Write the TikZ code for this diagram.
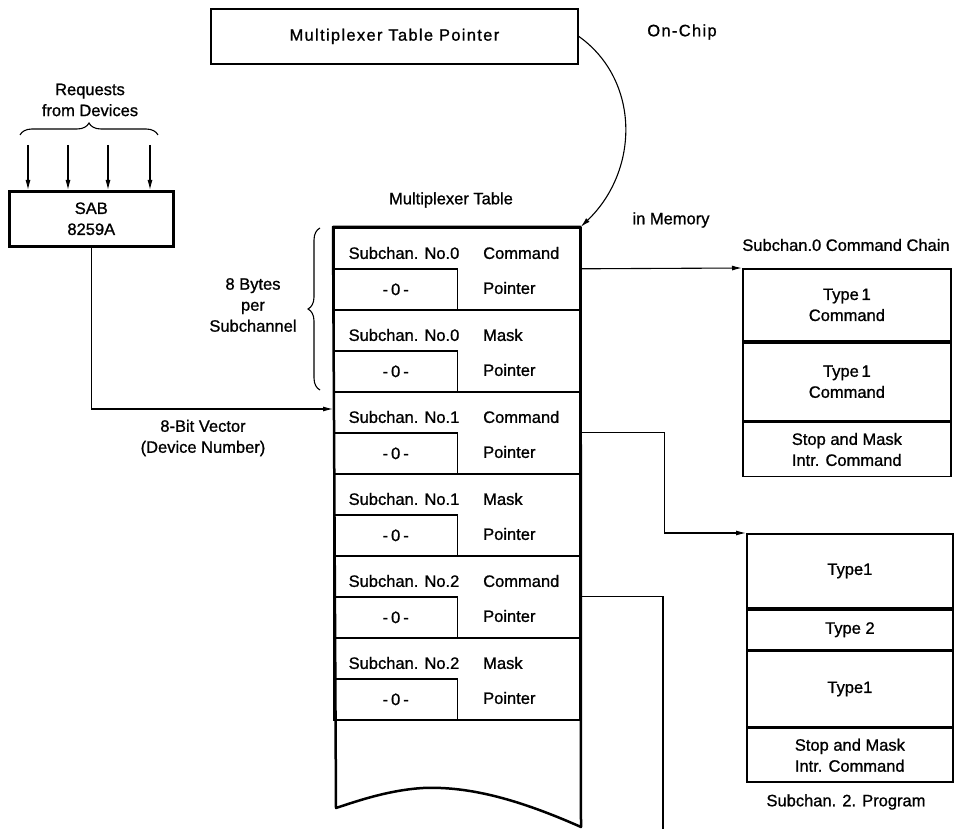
\documentclass[tikz,border=0pt]{standalone}
\usepackage{fontspec}
\setmainfont{Liberation Sans}[FakeBold=1]
\newfontfamily\widefont{Liberation Sans}[FakeBold=1, LetterSpace=8]
\usetikzlibrary{decorations.pathreplacing,arrows.meta}
\begin{document}
\begin{tikzpicture}[x=1pt,y=-1pt,
  lbl/.style={font=\fontsize{16.5}{21}\selectfont, inner sep=0pt, align=center},
  lblw/.style={lbl, anchor=west},
  thickbox/.style={draw, line width=2.2pt, inner sep=0pt, anchor=north west},
  rowbox/.style={draw, line width=1.6pt, inner sep=0pt, anchor=north west, minimum width=246pt, minimum height=82pt},
  subbox/.style={draw, line width=1.4pt, inner sep=0pt, anchor=south west, minimum width=124pt, minimum height=41pt},
  cbox/.style={draw, line width=1.8pt, inner sep=0pt, anchor=north west, font=\fontsize{16.5}{21}\selectfont, align=center},
  conn/.style={line width=1.1pt},
  arr/.style={conn, -{Latex[length=10pt,width=5pt]}},
  bracestyle/.style={decorate, decoration={brace, amplitude=12pt}, line width=1.1pt}]
\useasboundingbox (0,0) rectangle (962,829);

% pointer box
\node[thickbox, line width=1.8pt, minimum width=367pt, minimum height=55pt, font=\widefont\fontsize{16.5}{21}\selectfont] (ptr) at (210,8) {Multiplexer Table Pointer};
\node[lbl, font=\widefont\fontsize{16.5}{21}\selectfont] (onchip) at (682,32) {On-Chip};

% requests and SAB
\node[lbl] (req) at (90,100) {Requests\\from Devices};
\draw[bracestyle] (20,135) -- (158,135);
\node[thickbox, line width=2.6pt, minimum width=164pt, minimum height=55pt, font=\fontsize{16.5}{21}\selectfont, align=center] (sab) at (8,190) {SAB\\8259A};
\foreach \i/\x in {1/28,2/68,3/108,4/150} {
  \coordinate (q\i) at (\x,145);
  \draw[arr] (q\i) -- (q\i |- sab.north);
}

% multiplexer table
\node[lbl] (mtl) at (451,200) {Multiplexer Table};
\node[lbl] (inmem) at (671,220) {in Memory};
\foreach \k/\num/\kind in {0/0/Command,1/0/Mask,2/1/Command,3/1/Mask,4/2/Command,5/2/Mask} {
  \node[rowbox] (r\k) at (333,{227+82*\k}) {};
  \node[subbox] (s\k) at (r\k.south west) {};
  \node[lbl] (a\k) at (404,{253+82*\k}) {Subchan. No.\num};
  \node[lbl] (z\k) at (s\k.center) {-\hspace{3pt}0\hspace{3pt}-};
  \node[lblw] (b\k) at (483,{253+82*\k}) {\kind};
  \node[lblw] (p\k) at (483,{288+82*\k}) {Pointer};
}
\draw[line width=2.5pt, line join=round] (r0.north west) -- (r0.north east) -- (581,827)
  .. controls (520,800) and (470,786) .. (423,788)
  .. controls (390,790) and (360,800) .. (336,808) -- cycle;

% brace 8 bytes
\draw[bracestyle] (320,390) -- (320,228);
\node[lbl] (bytes) at (253,305) {8 Bytes\\per\\Subchannel};

% vector
\draw[arr] (sab.south) |- ([yshift=-18pt]r2.north west);
\node[lbl] (vec) at (203,438) {8-Bit Vector\\(Device Number)};

% on-chip to memory curve
\draw[arr] (ptr.east) .. controls (640,80) and (640,170) .. (r0.north east);

% chain 0
\node[lbl] (c0t) at (846,245) {Subchan.0 Command Chain};
\node[cbox, minimum width=208pt, minimum height=72pt] (c0a) at (742,268) {Type\,1\\Command};
\node[cbox, minimum width=208pt, minimum height=78pt] (c0b) at (c0a.south west) {Type\,1\\Command};
\node[cbox, minimum width=208pt, minimum height=54pt, align=left] (c0c) at (c0b.south west) {Stop and Mask\\Intr. Command};
\draw[arr] (r0.east) -- (c0a.north west);

% chain 2
\node[cbox, minimum width=206pt, minimum height=74pt] (c2a) at (746,533) {Type1};
\node[cbox, minimum width=206pt, minimum height=40pt] (c2b) at (c2a.south west) {Type 2};
\node[cbox, minimum width=206pt, minimum height=75pt] (c2c) at (c2b.south west) {Type1};
\node[cbox, minimum width=206pt, minimum height=54pt, align=left] (c2d) at (c2c.south west) {Stop and Mask\\Intr. Command};
\node[lbl] (c2t) at (846,802) {Subchan. 2. Program};
\draw[arr] (r2.east) -- ++(84,0) |- (c2a.north west);

% subchannel 2 pointer
\coordinate (e4) at (663,829);
\draw[conn] (r4.east) -| (e4);
\end{tikzpicture}
\end{document}
